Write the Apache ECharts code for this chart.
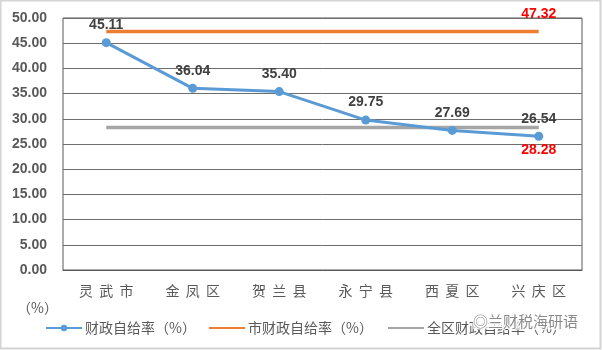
<!DOCTYPE html>
<html><head><meta charset="utf-8">
<script src="https://cdn.jsdelivr.net/npm/echarts@6/dist/echarts.min.js"></script>
<style>html,body{margin:0;padding:0;background:#fff}#c{width:602px;height:350px}</style>
</head><body><div id="c"></div>
<script>
const categories = ['灵武市','金凤区','贺兰县','永宁县','西夏区','兴庆区'];
const selfRate = [45.11, 36.04, 35.40, 29.75, 27.69, 26.54];
const cityRate = [47.32, 47.32, 47.32, 47.32, 47.32, 47.32];
const regionRate = [28.28, 28.28, 28.28, 28.28, 28.28, 28.28];
const seriesNames = ['财政自给率（%）','市财政自给率（%）','全区财政自给率（%）'];
const yTicks = {min: 0, max: 50, interval: 5};

const chart = echarts.init(document.getElementById('c'));
const cjk = '"Noto Sans CJK SC", sans-serif';
const num = '"Liberation Sans", sans-serif';
function lastLabel(pos, dist){
  return {show: true, position: pos, distance: dist, color: '#ff0000', fontSize: 14, fontWeight: 'bold', fontFamily: num,
    formatter: p => p.dataIndex === categories.length - 1 ? p.value.toFixed(2) : ''};
}
const legendCommon = {top: 316, itemWidth: 36, itemHeight: 8, itemGap: 0,
  textStyle: {color: '#595959', fontSize: 14, fontFamily: cjk, padding: [0, 0, 0, -2]}};
chart.setOption({
  animation: false,
  graphic: [
    {type: 'rect', shape: {x: 0.5, y: 0.5, width: 600, height: 348}, style: {fill: 'none', stroke: '#d4d4d4', lineWidth: 2}, z: 0},
    {type: 'text', left: 17, top: 301, style: {text: '（%）', fill: '#595959', font: '14px "Noto Sans CJK SC"'}},
    {type: 'text', left: 472, top: 313, z: 100, style: {text: '◎兰财税海研语', fill: '#8a8a8a', stroke: '#ffffff', lineWidth: 2, font: '15px "Noto Sans CJK SC"', backgroundColor: 'rgba(255,255,255,0.7)'}}
  ],
  grid: {left: 63, right: 20, top: 18, bottom: 80, show: true, borderColor: '#595959', borderWidth: 1},
  legend: [
    Object.assign({left: 40, data: [seriesNames[0]]}, legendCommon),
    Object.assign({left: 203, data: [seriesNames[1]]}, legendCommon),
    Object.assign({left: 382, data: [seriesNames[2]]}, legendCommon)
  ],
  xAxis: {
    type: 'category', data: categories, boundaryGap: true,
    axisLine: {lineStyle: {color: '#595959'}}, axisTick: {show: false},
    axisLabel: {color: '#595959', fontSize: 14, fontFamily: cjk, margin: 14,
      formatter: v => v.split('').join('  ')}
  },
  yAxis: {
    type: 'value', min: yTicks.min, max: yTicks.max, interval: yTicks.interval,
    axisLine: {show: false}, axisTick: {show: false},
    splitLine: {lineStyle: {color: '#6e6e6e', width: 1}},
    axisLabel: {color: '#595959', fontSize: 14, fontWeight: 'bold', fontFamily: num, margin: 16,
      formatter: v => v.toFixed(2)}
  },
  series: [
    {name: seriesNames[0], type: 'line', data: selfRate, z: 5,
      lineStyle: {color: '#5B9BD5', width: 3}, itemStyle: {color: '#5B9BD5'},
      symbol: 'circle', symbolSize: 9,
      label: {show: true, position: 'top', distance: 6, color: '#404040', fontSize: 14, fontWeight: 'bold', fontFamily: num,
        formatter: p => p.value.toFixed(2)}},
    {name: seriesNames[1], type: 'line', data: cityRate, z: 3,
      lineStyle: {color: '#ED7D31', width: 3.5}, itemStyle: {color: 'rgba(0,0,0,0)'},
      symbol: 'circle', symbolSize: 2, label: lastLabel('top', 9)},
    {name: seriesNames[2], type: 'line', data: regionRate, z: 3,
      lineStyle: {color: '#A5A5A5', width: 3.5}, itemStyle: {color: 'rgba(0,0,0,0)'},
      symbol: 'circle', symbolSize: 2, label: lastLabel('bottom', 15)}
  ]
});
</script></body></html>
